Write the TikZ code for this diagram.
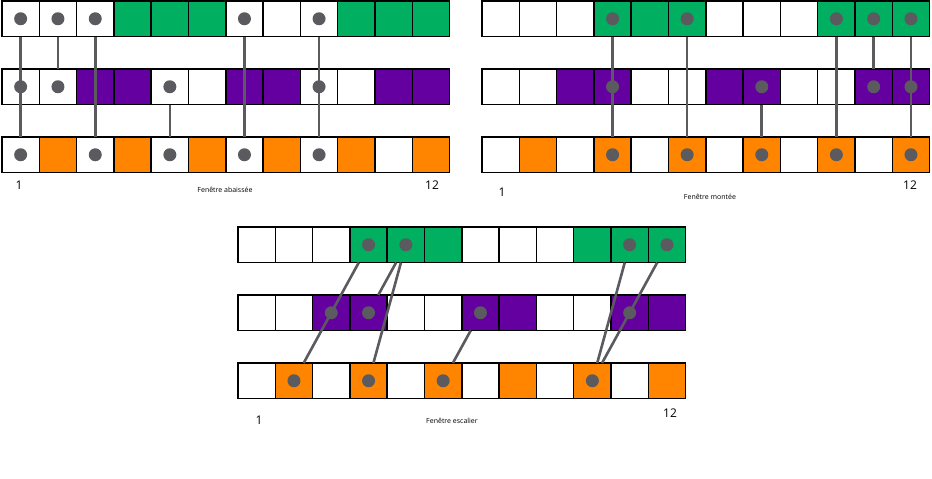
\documentclass[tikz,border=0pt]{standalone}
\usepackage{fontspec}
\setmainfont{Open Sans}
\definecolor{vert}{RGB}{0,175,95}
\definecolor{violet}{RGB}{100,0,160}
\definecolor{orange}{RGB}{255,133,0}
\definecolor{gris}{RGB}{90,90,95}
\tikzset{every picture/.style={line width=1.5pt}}
\tikzset{case/.style={draw=black,line width=1.5pt,minimum width=37.3pt,minimum height=35.5pt,inner sep=0pt,outer sep=0pt},
  pt/.style={circle,fill=gris,minimum size=13pt,inner sep=0pt},
  lien/.style={draw=gris,line width=2.6pt},
  num/.style={font=\large},
  titre/.style={font=\scriptsize}}
% une rangee de 12 cases : #1 nom, #2 x gauche, #3 y haut, #4 couleur, #5 cases colorees
\newcommand{\rangee}[5]{%
  \foreach \i in {1,...,12}
    \node[case,fill=white] (#1\i) at ({#2+37.3*(\i-0.5)},{#3+17.75}) {};
  \foreach \i in {#5}
    \node[case,fill=#4] at (#1\i) {};
}

\begin{document}
\begin{tikzpicture}[x=1pt,y=1pt,yscale=-1]
\useasboundingbox (0,0) rectangle (932,479);

%Fenetre abaissee
\rangee{aT}{2}{1}{vert}{4,5,6,10,11,12}
\rangee{aM}{2}{69}{violet}{3,4,7,8,11,12}
\rangee{aB}{2}{137}{orange}{2,4,6,8,10,12}
\draw[lien] (aT1) -- (aB1);
\draw[lien] (aT2) -- (aM2);
\draw[lien] (aT3) -- (aB3);
\draw[lien] (aM5) -- (aB5);
\draw[lien] (aT7) -- (aB7);
\draw[lien] (aT9) -- (aB9);
\foreach \n in {aT1,aM1,aB1,aT2,aM2,aT3,aB3,aM5,aB5,aT7,aB7,aT9,aM9,aB9}
  \node[pt] at (\n) {};
\node[num] (a1) at (19,185) {1};
\node[num] (a12) at (432,185) {12};
\node[titre] (aTitre) at (225,190) {Fenêtre abaissée};

%Fenetre montee
\rangee{bT}{482}{1}{vert}{4,5,6,10,11,12}
\rangee{bM}{482}{69}{violet}{3,4,7,8,11,12}
\rangee{bB}{482}{137}{orange}{2,4,6,8,10,12}
\draw[lien] (bT4) -- (bB4);
\draw[lien] (bT6) -- (bB6);
\draw[lien] (bM8) -- (bB8);
\draw[lien] (bT10) -- (bB10);
\draw[lien] (bT11) -- (bM11);
\draw[lien] (bT12) -- (bB12);
\foreach \n in {bT4,bM4,bB4,bT6,bB6,bM8,bB8,bT10,bB10,bT11,bM11,bT12,bM12,bB12}
  \node[pt] at (\n) {};
\node[num] (b1) at (502,192) {1};
\node[num] (b12) at (910,185) {12};
\node[titre] (bTitre) at (710,197) {Fenêtre montée};

%Fenetre escalier
\rangee{cT}{238}{227}{vert}{4,5,6,10,11,12}
\rangee{cM}{238}{295}{violet}{3,4,7,8,11,12}
\rangee{cB}{238}{363}{orange}{2,4,6,8,10,12}
\draw[lien] (cT4) -- (cB2);
\draw[lien] (cT5) -- (cM4);
\draw[lien] (cT5) -- (cB4);
\draw[lien] (cM7) -- (cB6);
\draw[lien] (cT11) -- (cB10);
\draw[lien] (cT12) -- (cB10);
\foreach \n in {cT4,cM3,cB2,cT5,cM4,cB4,cM7,cB6,cT11,cT12,cM11,cB10}
  \node[pt] at (\n) {};
\node[num] (c1) at (259,420) {1};
\node[num] (c12) at (670,413) {12};
\node[titre] (cTitre) at (452,421) {Fenêtre escalier};
\end{tikzpicture}
\end{document}
